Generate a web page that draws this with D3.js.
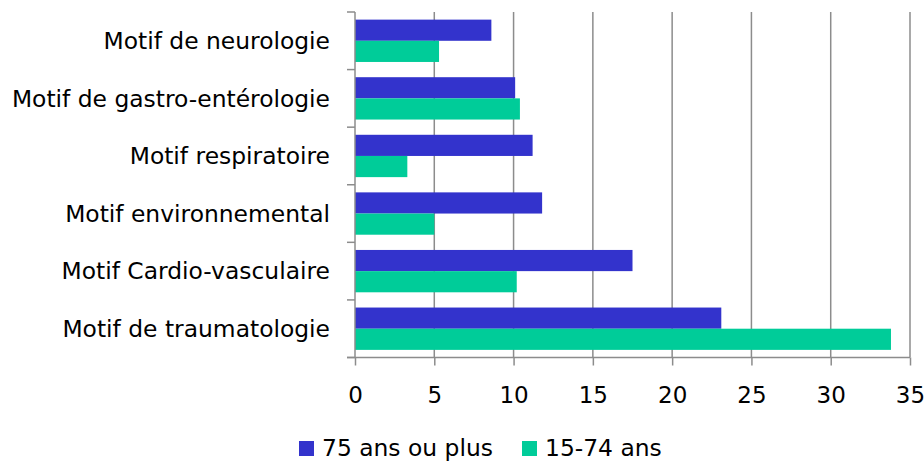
<!DOCTYPE html>
<html><head><meta charset="utf-8">
<script src="https://cdn.jsdelivr.net/npm/d3@7"></script>
<style>body{margin:0;background:#fff}svg{display:block}text{font-family:"DejaVu Sans",Verdana,sans-serif;fill:#000}</style>
</head><body>
<svg id="c" width="924" height="462"></svg>
<script>
const categories = ["Motif de neurologie","Motif de gastro-entérologie","Motif respiratoire","Motif environnemental","Motif Cardio-vasculaire","Motif de traumatologie"];
const seriesNames = ["75 ans ou plus","15-74 ans"];
const values75 = [8.6, 10.1, 11.2, 11.8, 17.5, 23.1];
const values1574 = [5.3, 10.4, 3.3, 5.0, 10.2, 33.8];
const xTicks = [0,5,10,15,20,25,30,35];
const colors = ["#3333CC","#00CC99"];

(function(){
const svg = d3.select("#c");
const L = 355, R = 910, T = 12, B = 357.5;
const x = d3.scaleLinear().domain([0,35]).range([L,R]);
const y = d3.scaleBand().domain(categories).range([T,B]).paddingInner(0).paddingOuter(0);
const inner = d3.scaleBand().domain(seriesNames).range([0,y.bandwidth()]).paddingOuter(0.36).paddingInner(0);

svg.append("g").selectAll("line").data(xTicks.slice(1)).join("line")
  .attr("x1",d=>x(d)).attr("x2",d=>x(d)).attr("y1",T).attr("y2",B)
  .attr("stroke","#8c8c8c").attr("stroke-width",1.5);

const data = categories.map((c,i)=>({c, v:[values75[i], values1574[i]]}));
const g = svg.append("g");
data.forEach(d=>{
  seriesNames.forEach((s,j)=>{
    g.append("rect").attr("x",x(0)).attr("y",y(d.c)+inner(s))
     .attr("width",x(d.v[j])-x(0)).attr("height",inner.bandwidth())
     .attr("fill",colors[j]);
  });
});

const xAxis = d3.axisBottom(x).tickValues(xTicks).tickSize(8).tickPadding(21).tickFormat(d3.format("d"));
const xa = svg.append("g").attr("transform",`translate(0,${B})`).call(xAxis);
xa.select(".domain").attr("stroke","#8c8c8c").attr("stroke-width",1.5).attr("d",`M${L-8},0H${R}`);
xa.selectAll(".tick line").attr("stroke","#8c8c8c").attr("stroke-width",1.5);
xa.selectAll(".tick text").attr("font-size",23).attr("font-family","DejaVu Sans").style("fill","#000");

const ya = svg.append("g").attr("transform",`translate(${L},0)`);
ya.append("line").attr("x1",0).attr("x2",0).attr("y1",T).attr("y2",B).attr("stroke","#8c8c8c").attr("stroke-width",1.5);
const bounds = categories.map(c=>y(c)).concat([B]);
ya.selectAll(".yt").data(bounds).join("line").attr("class","yt")
  .attr("x1",-8).attr("x2",0).attr("y1",d=>d).attr("y2",d=>d).attr("stroke","#8c8c8c").attr("stroke-width",1.5);
ya.selectAll(".yl").data(categories).join("text").attr("class","yl")
  .attr("x",-25).attr("y",d=>y(d)+y.bandwidth()/2).attr("dy","0.35em")
  .attr("text-anchor","end").attr("font-size",23.4).text(d=>d);

const leg = svg.append("g");
const items = [{x:299},{x:522}];
seriesNames.forEach((s,i)=>{
  leg.append("rect").attr("x",items[i].x).attr("y",441).attr("width",15).attr("height",15).attr("fill",colors[i]);
  leg.append("text").attr("x",items[i].x+23).attr("y",455.5).attr("font-size",23.4).text(s);
});
})();
</script>
</body></html>
